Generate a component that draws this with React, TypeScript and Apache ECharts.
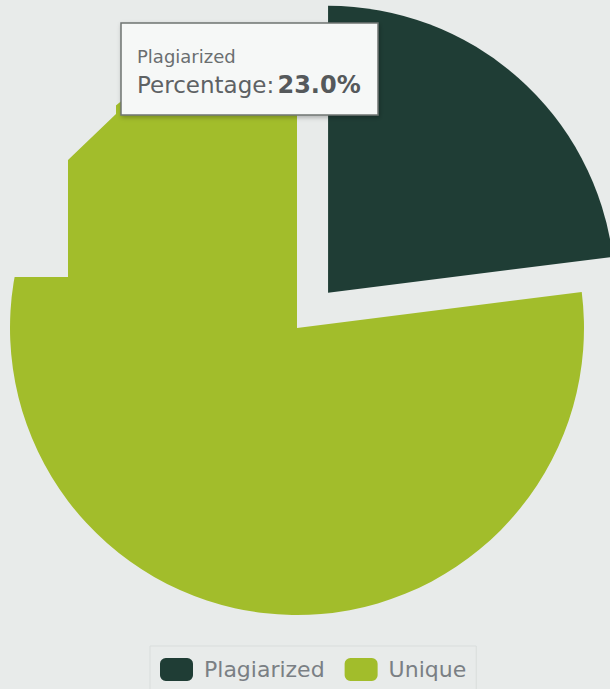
import React, { useEffect, useRef } from "react";
import * as echarts from "echarts";

const categories = ["Plagiarized", "Unique"];
const percentages = [23.0, 77.0];
const colors = ["#1f3d35", "#a2bd2b"];
const tooltipTitle = "Plagiarized";
const tooltipLabel = "Percentage:";

export default function App() {
  const ref = useRef<HTMLDivElement>(null);
  useEffect(() => {
    document.body.style.margin = "0";
    const chart = echarts.init(ref.current!, null, { renderer: "svg" });
    const bg = "#e8ebea";
    chart.setOption({
      animation: false,
      backgroundColor: bg,
      legend: {
        data: categories,
        left: 150,
        top: 646,
        padding: [12, 10, 12, 10],
        borderColor: "#d9dddc",
        borderWidth: 1,
        itemWidth: 33,
        itemHeight: 23,
        itemGap: 20,
        icon: "roundRect",
        selectedMode: false,
        textStyle: {
          fontFamily: "DejaVu Sans",
          fontSize: 22,
          color: "#7a7f84",
          padding: [0, 0, 0, 6],
        },
      },
      series: [
        {
          type: "pie",
          center: [297, 328],
          radius: 287,
          startAngle: 90,
          clockwise: true,
          selectedMode: "single",
          selectedOffset: 47,
          label: { show: false },
          labelLine: { show: false },
          emphasis: { disabled: true, scale: false },
          data: categories.map((c, i) => ({
            name: c,
            value: percentages[i],
            selected: i === 0,
            itemStyle: { color: colors[i] },
          })),
        },
      ],
      graphic: [
        {
          type: "polygon",
          z: 50,
          silent: true,
          shape: {
            points: [
              [0, 277],
              [68, 277],
              [68, 160],
              [116, 114],
              [116, 30],
              [0, 30],
            ],
          },
          style: { fill: bg },
        },
        {
          type: "rect",
          z: 100,
          silent: true,
          shape: { x: 121, y: 23, width: 257, height: 92 },
          style: {
            fill: "#f6f8f7",
            stroke: "#6f7472",
            lineWidth: 1.5,
            shadowBlur: 4,
            shadowColor: "rgba(0,0,0,0.25)",
            shadowOffsetX: 1,
            shadowOffsetY: 2,
          },
        },
        {
          type: "text",
          z: 101,
          silent: true,
          x: 137,
          y: 56,
          style: {
            text: tooltipTitle,
            fontFamily: "DejaVu Sans",
            fontSize: 18,
            fill: "#6a6e70",
            textVerticalAlign: "middle",
          },
        },
        {
          type: "text",
          z: 101,
          silent: true,
          x: 137,
          y: 85,
          style: {
            text:
              "{a|" + tooltipLabel + "} {b|" + percentages[0].toFixed(1) + "%}",
            textVerticalAlign: "middle",
            rich: {
              a: {
                fontFamily: "DejaVu Sans",
                fontSize: 23,
                fill: "#5e6264",
              },
              b: {
                fontFamily: "DejaVu Sans",
                fontSize: 24,
                fontWeight: "bold",
                fill: "#55595b",
              },
            },
          },
        },
      ],
    });
    return () => chart.dispose();
  }, []);
  return (
    <div
      ref={ref}
      style={{ position: "fixed", left: 0, top: 0, width: 610, height: 689 }}
    />
  );
}
